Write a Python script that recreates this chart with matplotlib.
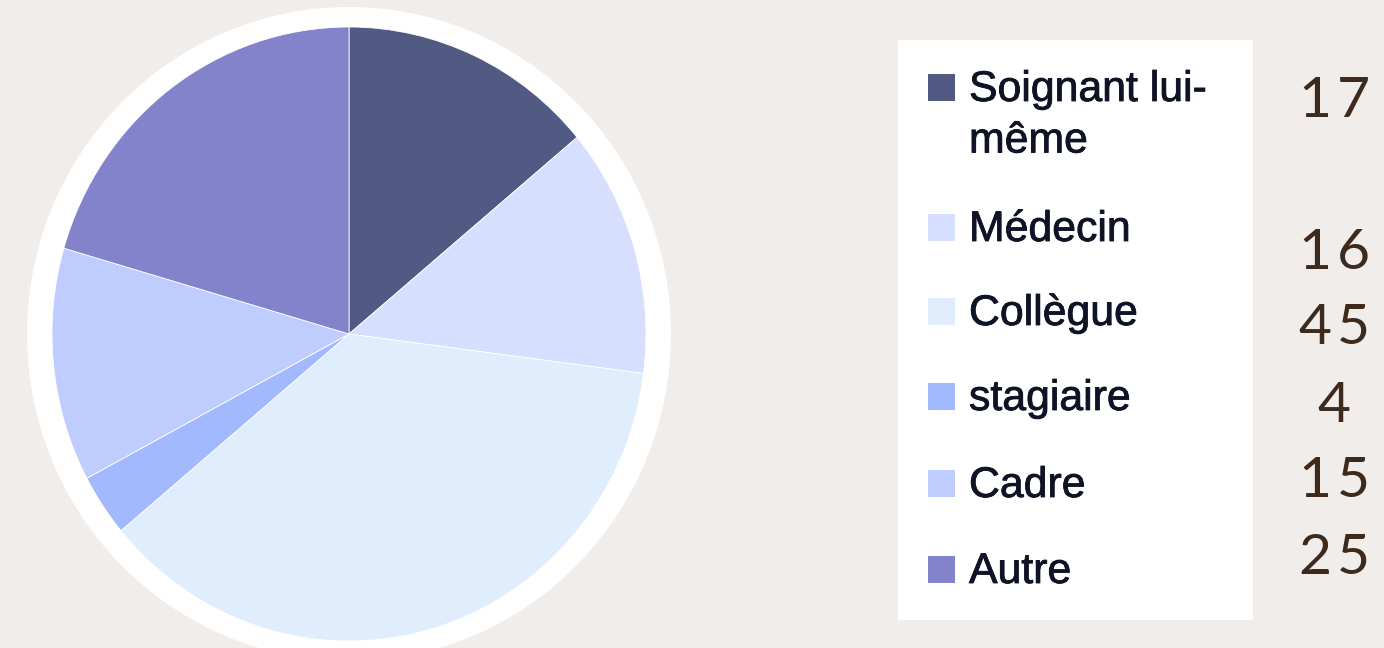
import matplotlib
matplotlib.use("Agg")
import matplotlib.pyplot as plt
from matplotlib.patches import Rectangle, Ellipse
import matplotlib.patheffects as pe

categories = ["Soignant lui-\nmême", "Médecin", "Collègue", "stagiaire", "Cadre", "Autre"]
values = [17, 16, 45, 4, 15, 25]
colors = ["#505a82", "#d6dffd", "#dfedfd", "#a3b9fd", "#becdfe", "#8383cb"]

BG = "#f0edea"
W, H = 1384, 648
fig = plt.figure(figsize=(W / 100, H / 100), dpi=100)
fig.patch.set_facecolor(BG)

# ---- pie ----
rx, ry = 297.0, 307.0          # pixel radii
cx, cy = 349.0, 648 - 334.0    # pixel center (from bottom)
lim = 1.12
axw, axh = 2 * lim * rx, 2 * lim * ry
ax = fig.add_axes([(cx - axw / 2) / W, (cy - axh / 2) / H, axw / W, axh / H])
ax.add_patch(Ellipse((0, 0), 2 * 322 / rx, 2 * 327 / ry, facecolor="white",
                     edgecolor="none", clip_on=False, zorder=0))
wedges, _ = ax.pie(values, colors=colors, startangle=90, counterclock=False,
                   radius=1.0, wedgeprops=dict(edgecolor="white", linewidth=0.6),
                   frame=True)
for w in wedges:
    w.set_clip_on(False)
    w.set_zorder(1)
ax.set_xlim(-lim, lim)
ax.set_ylim(-lim, lim)
ax.set_aspect("auto")
ax.axis("off")

# ---- legend panel & numbers (pixel coordinates) ----
ov = fig.add_axes([0, 0, 1, 1], facecolor="none")
ov.set_xlim(0, W)
ov.set_ylim(H, 0)
ov.axis("off")
ov.add_patch(Rectangle((898, 40), 355, 580, facecolor="white", edgecolor="none"))

label_baselines = [101, 241, 325, 410, 497, 583]
line_step = 51.5
sq = 27
txt_col = "#0f1326"
for lab, col, yb in zip(categories, colors, label_baselines):
    ov.add_patch(Rectangle((928, yb - sq), sq, sq, facecolor=col, edgecolor="none"))
    for k, line in enumerate(lab.split("\n")):
        ov.text(969, yb + k * line_step, line, fontsize=30.8, family="Liberation Sans",
                color=txt_col, ha="left", va="baseline",
                path_effects=[pe.withStroke(linewidth=0.6, foreground=txt_col)])

num_baselines = [117, 269, 344.5, 421.5, 497, 574]
num_cx = 1334
step = 38
for v, yb in zip(values, num_baselines):
    s = str(v)
    n = len(s)
    for i, ch in enumerate(s):
        ov.text(num_cx + (i - (n - 1) / 2) * step, yb, ch, fontsize=41,
                family="Lato", color="#3d2a1c", ha="center", va="baseline")

fig.savefig("out.png", dpi=100, facecolor=BG)
